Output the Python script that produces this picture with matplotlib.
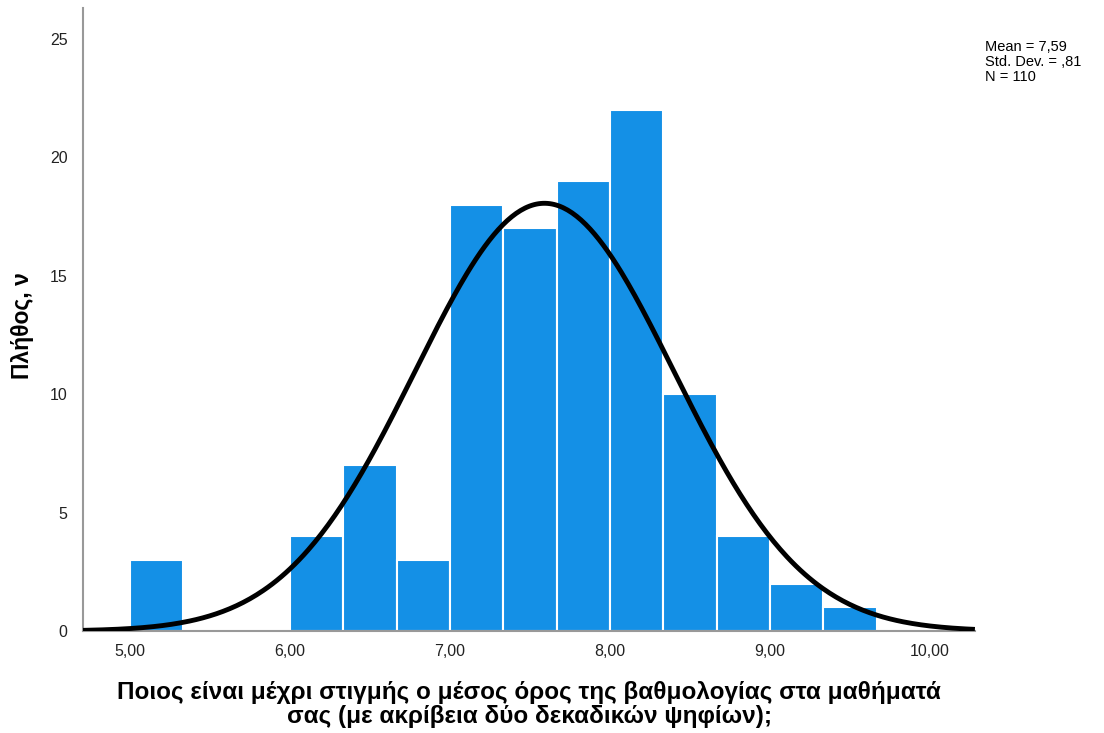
import numpy as np
import matplotlib
matplotlib.use("Agg")
import matplotlib.pyplot as plt

# histogram bins (width 1/3) and counts
bin_edges = [5.0, 5.3333, 5.6667, 6.0, 6.3333, 6.6667, 7.0, 7.3333, 7.6667,
             8.0, 8.3333, 8.6667, 9.0, 9.3333, 9.6667]
counts = [3, 0, 0, 4, 7, 3, 18, 17, 19, 22, 10, 4, 2, 1]

mean = 7.59
std = 0.81
n = 110
x_ticks = [5, 6, 7, 8, 9, 10]
x_tick_labels = ["5,00", "6,00", "7,00", "8,00", "9,00", "10,00"]
y_ticks = [0, 5, 10, 15, 20, 25]

plt.rcParams['font.family'] = ['Liberation Sans', 'DejaVu Sans']

fig = plt.figure(figsize=(11.04, 7.33), dpi=100)
ax = fig.add_axes([0.0752, 0.139, 0.808, 0.850])

lefts = np.array(bin_edges[:-1])
widths = np.diff(bin_edges)
ax.bar(lefts, counts, width=widths, align='edge', color='#1490E6',
       edgecolor='white', linewidth=1.5, zorder=2)

# fitted normal curve scaled to counts
bw = 1 / 3
xs = np.linspace(4.70, 10.28, 400)
ys = n * bw / (std * np.sqrt(2 * np.pi)) * np.exp(-0.5 * ((xs - mean) / std) ** 2)
ax.plot(xs, ys, color='black', linewidth=3.5, zorder=3, solid_capstyle='butt')

ax.set_xlim(4.706, 10.281)
ax.set_ylim(0, 26.3)
ax.set_xticks(x_ticks)
ax.set_xticklabels(x_tick_labels)
ax.set_yticks(y_ticks)
ax.tick_params(length=0, labelsize=11.5, colors='#222222')
ax.tick_params(axis='y', pad=11)
ax.tick_params(axis='x', pad=9)

for side in ['top', 'right']:
    ax.spines[side].set_visible(False)
for side in ['left', 'bottom']:
    ax.spines[side].set_color('#999999')
    ax.spines[side].set_linewidth(1.5)

ax.set_ylabel("Πλήθος, ν", fontsize=16.5, fontweight='bold')
ax.yaxis.set_label_coords(-0.055, 0.49)
ax.set_xlabel("Ποιος είναι μέχρι στιγμής ο μέσος όρος της βαθμολογίας στα μαθήματά\n"
              "σας (με ακρίβεια δύο δεκαδικών ψηφίων);",
              fontsize=17.5, fontweight='bold', labelpad=16, linespacing=1.05)

fig.text(0.892, 0.946, "Mean = 7,59\nStd. Dev. = ,81\nN = 110",
         fontsize=10.5, va='top', ha='left', linespacing=1.1)

fig.savefig("out.png", dpi=100)
